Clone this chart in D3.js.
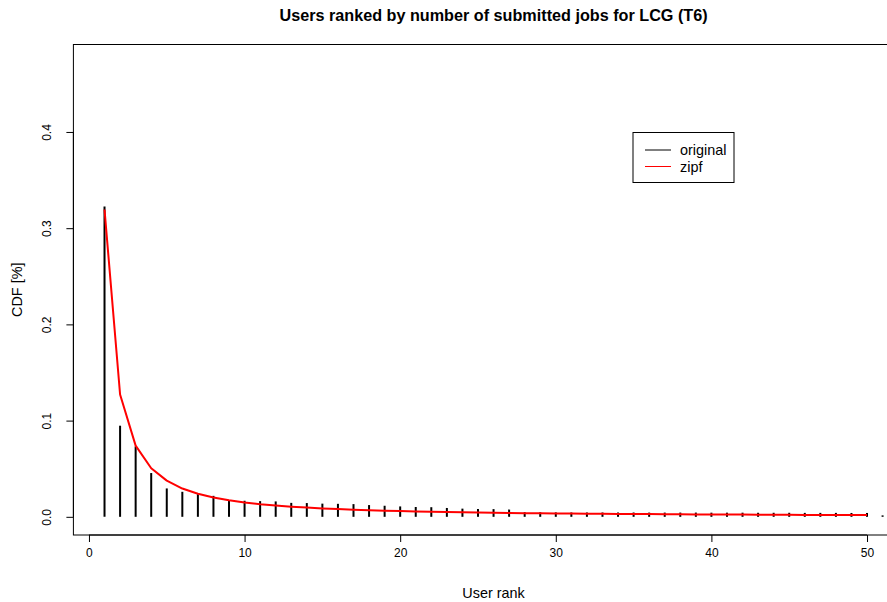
<!DOCTYPE html>
<html>
<head>
<meta charset="utf-8">
<script src="https://cdn.jsdelivr.net/npm/d3@7"></script>
<style>
  body { margin: 0; background: #fff; }
  svg { display: block; font-family: "Liberation Sans", Arial, sans-serif; }
</style>
</head>
<body>
<div id="chart"></div>
<script>
// observed share of jobs per user, ranks 1..51
const ranks = d3.range(1, 52);
const original = [
    0.3226, 0.0947, 0.0732, 0.0455, 0.0295, 0.0260, 0.0236, 0.0218, 0.0170, 0.0167,
    0.0163, 0.0160, 0.0145, 0.0143, 0.0137, 0.0135, 0.0132, 0.0122, 0.0115, 0.0108,
    0.0102, 0.0100, 0.0092, 0.0085, 0.0081, 0.0080, 0.0075, 0.0048, 0.0047, 0.0046,
    0.0045, 0.0045, 0.0045, 0.0045, 0.0045, 0.0044, 0.0044, 0.0044, 0.0044, 0.0043,
    0.0043, 0.0043, 0.0042, 0.0042, 0.0042, 0.0041, 0.0041, 0.0041, 0.0040, 0.0040,
    0.0015
];
// fitted zipf curve, ranks 1..50
const zipf = [
    0.3194, 0.1271, 0.0740, 0.0505, 0.0376, 0.0294, 0.0240, 0.0201, 0.0172, 0.0149,
    0.0131, 0.0117, 0.0105, 0.0096, 0.0087, 0.0080, 0.0074, 0.0069, 0.0064, 0.0060,
    0.0056, 0.0053, 0.0050, 0.0047, 0.0045, 0.0042, 0.0040, 0.0038, 0.0037, 0.0035,
    0.0034, 0.0032, 0.0031, 0.0030, 0.0029, 0.0028, 0.0027, 0.0026, 0.0025, 0.0024,
    0.0023, 0.0023, 0.0022, 0.0021, 0.0021, 0.0020, 0.0020, 0.0019, 0.0019, 0.0018
];
const xTicks = [0, 10, 20, 30, 40, 50];
const yTicks = [0.0, 0.1, 0.2, 0.3, 0.4];

const W = 887, H = 602;
const svg = d3.select("#chart").append("svg")
    .attr("width", W)
    .attr("height", H);

// R-style plot region (4% axis extension)
const x = d3.scaleLinear().domain([-1, 53]).range([73.4, 913.7]);
const y = d3.scaleLinear().domain([-0.0189, 0.4909]).range([535, 44.5]);

// frame
svg.append("rect")
    .attr("x", x(-1)).attr("y", y(0.4909))
    .attr("width", x(53) - x(-1)).attr("height", y(-0.0189) - y(0.4909))
    .attr("fill", "none").attr("stroke", "#000").attr("stroke-width", 1);

// original: vertical lines (type = "h")
svg.selectAll(".hbar")
    .data(ranks)
    .enter()
    .append("line")
    .attr("class", "hbar")
    .attr("x1", d => x(d)).attr("x2", d => x(d))
    .attr("y1", y(0)).attr("y2", (d, i) => y(original[i]))
    .attr("stroke", "#000")
    .attr("stroke-width", 2);

// zipf fit
const line = d3.line()
    .x((d, i) => x(i + 1))
    .y(d => y(d));
svg.append("path")
    .datum(zipf)
    .attr("d", line)
    .attr("fill", "none")
    .attr("stroke", "#ff0000")
    .attr("stroke-width", 2)
    .attr("stroke-linejoin", "round");

// x axis
const xAxis = svg.append("g")
    .attr("transform", `translate(0,${y(-0.0189)})`)
    .call(d3.axisBottom(x).tickValues(xTicks).tickSize(7).tickPadding(6).tickFormat(d3.format("d")));
xAxis.select(".domain").attr("d", `M${x(0)},0H${x(50)}`);
xAxis.selectAll("text").attr("font-size", "12px").attr("fill", "#000").attr("font-family", null);

// y axis, labels parallel to the axis like R's las = 0
const yAxis = svg.append("g")
    .attr("transform", `translate(${x(-1)},0)`)
    .call(d3.axisLeft(y).tickValues(yTicks).tickSize(7).tickFormat(d3.format(".1f")));
yAxis.select(".domain").attr("d", `M0,${y(0)}V${y(0.4)}`);
yAxis.selectAll("text")
    .attr("font-size", "12px").attr("fill", "#000").attr("font-family", null)
    .attr("text-anchor", "middle")
    .attr("dy", null)
    .attr("x", 0)
    .attr("y", -22)
    .attr("transform", "rotate(-90)");

// titles
svg.append("text")
    .attr("x", (x(-1) + x(53)) / 2).attr("y", 21)
    .attr("text-anchor", "middle")
    .attr("font-size", "16.2px").attr("font-weight", "bold")
    .text("Users ranked by number of submitted jobs for LCG (T6)");

svg.append("text")
    .attr("x", (x(-1) + x(53)) / 2).attr("y", 598)
    .attr("text-anchor", "middle")
    .attr("font-size", "14.4px")
    .text("User rank");

svg.append("text")
    .attr("transform", `translate(22,${(y(-0.0189) + y(0.4909)) / 2}) rotate(-90)`)
    .attr("text-anchor", "middle")
    .attr("font-size", "14.4px")
    .text("CDF [%]");

// legend
const legendItems = [
    { name: "original", color: "#000" },
    { name: "zipf", color: "#ff0000" }
];
const lg = svg.append("g").attr("transform", "translate(633,132.5)");
lg.append("rect")
    .attr("width", 101).attr("height", 50)
    .attr("fill", "#fff").attr("stroke", "#000");
const li = lg.selectAll(".item")
    .data(legendItems)
    .enter()
    .append("g")
    .attr("transform", (d, i) => `translate(0,${17.5 + i * 16.5})`);
li.append("line")
    .attr("x1", 12).attr("x2", 38)
    .attr("stroke", d => d.color).attr("stroke-width", 1);
li.append("text")
    .attr("x", 47).attr("y", 5)
    .attr("font-size", "14.4px")
    .text(d => d.name);
</script>
</body>
</html>
